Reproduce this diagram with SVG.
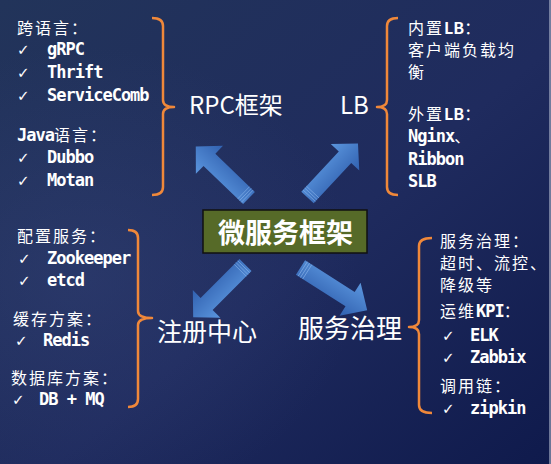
<svg xmlns="http://www.w3.org/2000/svg" width="551" height="464" viewBox="0 0 551 464">
<defs>
<linearGradient id="bg" x1="0" y1="0" x2="1" y2="1">
<stop offset="0" stop-color="#22345a"/>
<stop offset="0.55" stop-color="#1f2b5e"/>
<stop offset="1" stop-color="#0f1a4c"/>
</linearGradient>
<radialGradient id="glow" cx="0.15" cy="0.6" r="0.5">
<stop offset="0" stop-color="#3b4a80" stop-opacity="0.35"/>
<stop offset="1" stop-color="#3b4a80" stop-opacity="0"/>
</radialGradient>
<linearGradient id="ag" x1="0" y1="0" x2="0" y2="1">
<stop offset="0" stop-color="#5b96de"/>
<stop offset="1" stop-color="#3161b0"/>
</linearGradient>
<g id="arrow">
<polygon points="0,-8.5 55,-8.5 55,-19.5 74,0 55,19.5 55,8.5 0,8.5" fill="url(#ag)"/>
<path d="M2.5,-8.5V8.5M5,-8.5V8.5M7.5,-8.5V8.5" stroke="#8db8ec" stroke-width="0.8" stroke-opacity="0.7"/>
</g>
<style>
.cn{font-family:"Noto Sans CJK SC","Noto Sans",sans-serif;font-size:16px;fill:#ffffff;letter-spacing:2px}
.mono{font-family:"DejaVu Sans Mono","Liberation Mono",monospace;font-size:17px;font-weight:bold;fill:#ffffff;letter-spacing:-1px}
.ck{font-family:"DejaVu Sans",sans-serif;font-size:15px;fill:#ffffff}
.big{font-family:"Noto Sans CJK SC","Noto Sans",sans-serif;fill:#ffffff}
.br{fill:none;stroke:#f0883a;stroke-width:2.5;stroke-linejoin:round}
</style>
</defs>
<rect x="0" y="0" width="551" height="464" fill="url(#bg)"/>
<rect x="0" y="0" width="551" height="464" fill="url(#glow)"/>
<rect x="549" y="0" width="2" height="464" fill="#c8d0e0" opacity="0.5"/>

<g id="connectors">
<use href="#arrow" transform="translate(249,198) rotate(-136)"/>
<use href="#arrow" transform="translate(307.5,197.5) rotate(-47)"/>
<use href="#arrow" transform="translate(245.5,265) rotate(135)"/>
<use href="#arrow" transform="translate(300.5,267.5) rotate(32.6) scale(1.07,1)"/>
</g>

<g id="center">
<rect x="203" y="210" width="164" height="43" fill="#566a28" stroke="#111111" stroke-width="1.5"/>
<text x="285.5" y="243" text-anchor="middle" class="big" font-size="27" font-weight="bold">微服务框架</text>
</g>

<g id="rpc">
<text x="189" y="114" class="big" font-size="24">RPC框架</text>
<path class="br" d="M152,18 Q163,18 163,26 V100 Q163,107 174,107 Q163,107 163,114 V187 Q163,195 152,195"/>
<text x="17" y="34" class="cn">跨语言：</text>
<text x="17" y="55" class="ck">✓</text><text x="47" y="55" class="mono">gRPC</text>
<text x="17" y="78" class="ck">✓</text><text x="47" y="78" class="mono">Thrift</text>
<text x="17" y="101" class="ck">✓</text><text x="47" y="101" class="mono">ServiceComb</text>
<text x="17" y="141" class="cn"><tspan class="mono" letter-spacing="-0.5">Java</tspan>语言：</text>
<text x="17" y="163" class="ck">✓</text><text x="47" y="163" class="mono">Dubbo</text>
<text x="17" y="186" class="ck">✓</text><text x="47" y="186" class="mono">Motan</text>
</g>

<g id="lb">
<text x="340" y="114" class="big" font-size="24">LB</text>
<path class="br" d="M398,18 Q387,18 387,26 V100 Q387,107 377,107 Q387,107 387,114 V187 Q387,195 398,195"/>
<text x="408" y="34" class="cn">内置<tspan font-weight="bold" letter-spacing="0">LB</tspan>：</text>
<text x="408" y="56" class="cn" letter-spacing="2.3">客户端负载均</text>
<text x="408" y="78" class="cn">衡</text>
<text x="408" y="120" class="cn">外置<tspan font-weight="bold" letter-spacing="0">LB</tspan>：</text>
<text x="408" y="142" class="cn"><tspan class="mono">Nginx</tspan>、</text>
<text x="408" y="165" class="mono">Ribbon</text>
<text x="408" y="187" class="mono">SLB</text>
</g>

<g id="registry">
<text x="157" y="341" class="big" font-size="25">注册中心</text>
<path class="br" d="M128,230 Q138,230 138,238 V311 Q138,318 152,318 Q138,318 138,325 V399 Q138,407 128,407"/>
<text x="17" y="242" class="cn">配置服务：</text>
<text x="18" y="264" class="ck">✓</text><text x="47" y="264" class="mono">Zookeeper</text>
<text x="18" y="286" class="ck">✓</text><text x="47" y="286" class="mono">etcd</text>
<text x="13" y="325" class="cn">缓存方案：</text>
<text x="15" y="346" class="ck">✓</text><text x="43" y="346" class="mono">Redis</text>
<text x="11" y="384" class="cn">数据库方案：</text>
<text x="12" y="405" class="ck">✓</text><text x="39" y="405" class="mono">DB + MQ</text>
</g>

<g id="governance">
<text x="298" y="338" class="big" font-size="26">服务治理</text>
<path class="br" d="M432,238 Q419,238 419,246 V320 Q419,327 409,327 Q419,327 419,334 V405 Q419,413 432,413"/>
<text x="440" y="247" class="cn" letter-spacing="0.7">服务治理：</text>
<text x="440" y="269" class="cn" letter-spacing="0.7">超时、流控、</text>
<text x="440" y="291" class="cn" letter-spacing="0.7">降级等</text>
<text x="440" y="317" class="cn" letter-spacing="0.7">运维<tspan class="mono">KPI</tspan>：</text>
<text x="442" y="341" class="ck">✓</text><text x="470" y="341" class="mono">ELK</text>
<text x="442" y="363" class="ck">✓</text><text x="470" y="363" class="mono">Zabbix</text>
<text x="440" y="392" class="cn" letter-spacing="0.7">调用链：</text>
<text x="442" y="414" class="ck">✓</text><text x="470" y="414" class="mono">zipkin</text>
</g>
</svg>
